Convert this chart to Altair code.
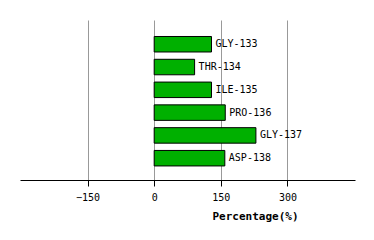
import altair as alt
import pandas as pd

residues = ["GLY-133", "THR-134", "ILE-135", "PRO-136", "GLY-137", "ASP-138"]
values = [129, 91, 129, 160, 229, 159]
ticks = [-150, 0, 150, 300]

df = pd.DataFrame({"residue": residues, "value": values})

FONT = "DejaVu Sans Mono"

x = alt.X(
    "value:Q",
    scale=alt.Scale(domain=[-302, 452], nice=False, zero=False),
    axis=alt.Axis(
        values=ticks,
        title="Percentage(%)",
        titleFont=FONT,
        titleFontSize=11,
        titleFontWeight="bold",
        titleColor="black",
        titleX=235,
        titleY=30,
        titleAlign="center",
        labelFont=FONT,
        labelFontSize=10,
        labelColor="black",
        labelPadding=6,
        tickSize=6,
        tickColor="black",
        domainColor="black",
        grid=True,
        gridColor="#999999",
        gridWidth=1,
    ),
)
y = alt.Y(
    "residue:N",
    sort=residues,
    scale=alt.Scale(paddingInner=0.32, paddingOuter=0.67, align=0.54),
    axis=None,
)

bars = alt.Chart(df).mark_bar(color="#00B000", stroke="black", strokeWidth=1).encode(x=x, y=y)
labels = alt.Chart(df).mark_text(
    align="left", baseline="middle", dx=4, font=FONT, fontSize=10, color="black"
).encode(x=alt.X("value:Q"), y=alt.Y("residue:N", sort=residues), text="residue:N")

chart = (
    alt.layer(bars, labels)
    .properties(
        width=335,
        height=160,
        autosize=alt.AutoSizeParams(type="none"),
        padding={"left": 20, "top": 20, "right": 19, "bottom": 60},
        background="white",
    )
    .configure_view(stroke=None)
)

chart.save("out.html", embed_options={"renderer": "svg", "actions": False})
